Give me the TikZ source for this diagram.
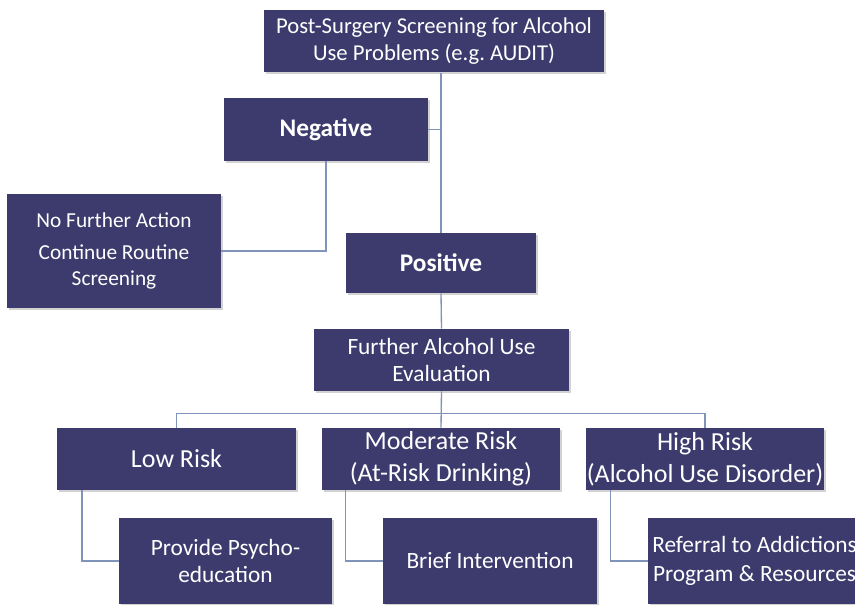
\documentclass[tikz,border=0pt]{standalone}
\usepackage{fontspec}
\setmainfont{Carlito}
\usetikzlibrary{shadows}
\definecolor{boxblue}{RGB}{61,59,110}
\definecolor{linkblue}{RGB}{128,148,186}

\begin{document}
\begin{tikzpicture}[x=0.75pt,y=-0.75pt,
   box/.style={fill=boxblue,text=white,align=center,inner sep=0pt,
     font=\fontsize{17}{20}\selectfont,
     drop shadow={shadow xshift=1.5pt,shadow yshift=-1.5pt,opacity=0.35}},
   link/.style={draw=linkblue,line width=1pt}]
   \clip (0,0) rectangle (855,605);
   \fill[white] (0,0) rectangle (855,605);
   \node[box,minimum width=255pt,minimum height=47pt] (top) at (434,41)
     {Post-Surgery Screening for Alcohol\\Use Problems (e.g.\ AUDIT)};
   \node[box,minimum width=153pt,minimum height=47pt,font=\fontsize{19}{20}\selectfont\bfseries] (neg) at (326,129.5) {Negative};
   \node[box,minimum width=160.5pt,minimum height=85.5pt,font=\fontsize{16}{19}\selectfont] (nofa) at (114,251)
     {No Further Action\\[5pt]Continue Routine\\Screening};
   \node[box,minimum width=142.5pt,minimum height=45pt,font=\fontsize{19}{20}\selectfont\bfseries] (pos) at (441,263) {Positive};
   \node[box,minimum width=191pt,minimum height=46.5pt,font=\fontsize{17.5}{20.5}\selectfont] (eval) at (441.5,360)
     {Further Alcohol Use\\Evaluation};
   \node[box,minimum width=179pt,minimum height=46.5pt,font=\fontsize{19.5}{24}\selectfont] (low) at (176.5,459) {Low Risk};
   \node[box,minimum width=178.5pt,minimum height=46.5pt,font=\fontsize{19.5}{24}\selectfont] (mod) at (441,459)
     {Moderate Risk\\(At-Risk Drinking)};
   \node[box,minimum width=178.5pt,minimum height=46.5pt,font=\fontsize{19.5}{24}\selectfont] (high) at (705,459)
     {High Risk\\(Alcohol Use Disorder)};
   \node[box,minimum width=160pt,minimum height=64.5pt,font=\fontsize{17.5}{20}\selectfont] (psy) at (225.5,561)
     {Provide Psycho-\\education};
   \node[box,minimum width=160pt,minimum height=64.5pt,font=\fontsize{17.5}{20}\selectfont] (brief) at (490,561) {Brief Intervention};
   \node[box,minimum width=160pt,minimum height=64.5pt,font=\fontsize{17.5}{22}\selectfont] (ref) at (754.5,561)
     {Referral to Addictions\\Program \& Resources};
   % connectors
   \draw[link] (pos.north) -- (pos.north |- top.south);
   \draw[link] (neg.east) -- (neg.east -| pos.north);
   \draw[link] (neg.south) |- (nofa.east);
   \draw[link] (pos.south) -- (eval.north);
   \draw[link] (eval.south) -- (mod.north);
   \draw[link] (low.north) -- ++(0,-14) -| (high.north);
   \draw[link] ([xshift=18.75pt]low.south west) |- (psy.west);
   \draw[link] ([xshift=18pt]mod.south west) |- (brief.west);
   \draw[link] ([xshift=18.75pt]high.south west) |- (ref.west);
\end{tikzpicture}
\end{document}
